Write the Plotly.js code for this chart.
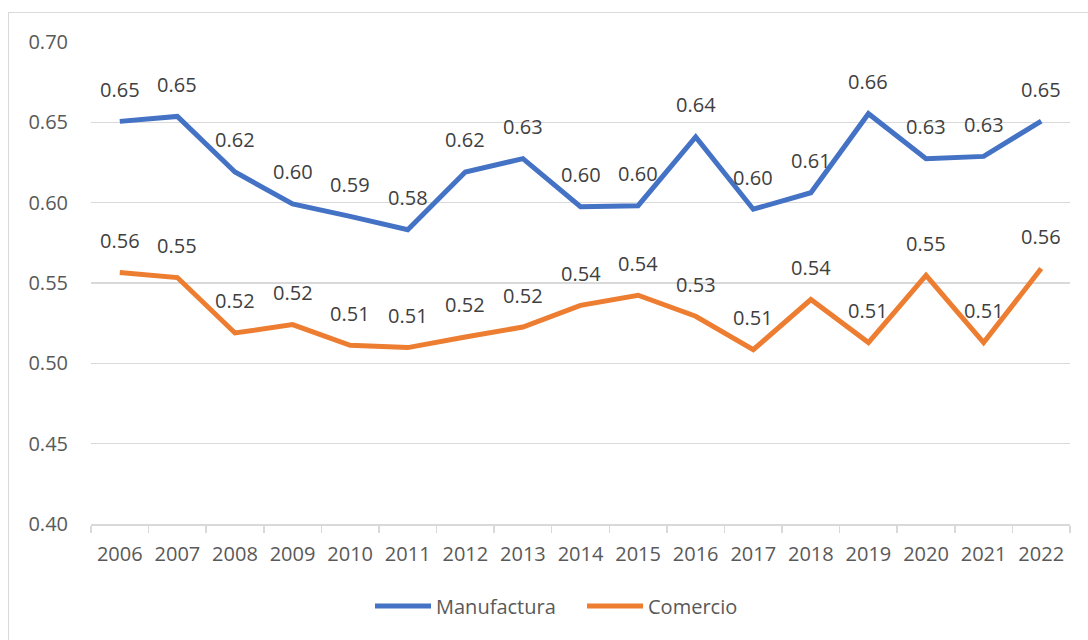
<!DOCTYPE html>
<html>
<head>
<meta charset="utf-8">
<script src="https://cdn.plot.ly/plotly-3.0.1.min.js"></script>
<style>
  html, body { margin: 0; padding: 0; background: #ffffff; overflow: hidden; }
  #frame { position: absolute; left: 8px; top: 12px; width: 1300px; height: 900px; border: 1px solid #d9d9d9; box-sizing: border-box; }
  #chart { position: absolute; left: 0; top: 0; width: 1088px; height: 640px; }
</style>
</head>
<body>
<div id="frame"></div>
<div id="chart"></div>
<script>
const years = ['2006','2007','2008','2009','2010','2011','2012','2013','2014','2015','2016','2017','2018','2019','2020','2021','2022'];
const manufactura = [0.6506,0.6537,0.6191,0.5992,0.5915,0.5832,0.6191,0.6274,0.5975,0.5981,0.6409,0.5959,0.6062,0.6554,0.6274,0.6288,0.6508];
const comercio = [0.5565,0.5534,0.5189,0.5241,0.5112,0.5098,0.5164,0.5226,0.5361,0.5424,0.5293,0.5085,0.5397,0.5129,0.5548,0.5129,0.5590];
const yTicks = [0.40,0.45,0.50,0.55,0.60,0.65,0.70];

const fontFam = '"Open Sans", "Noto Sans", sans-serif';

const traces = [
  { x: years, y: manufactura, name: 'Manufactura', type: 'scatter', mode: 'lines',
    line: { color: '#4472C4', width: 5 }, hoverinfo: 'skip' },
  { x: years, y: comercio, name: 'Comercio', type: 'scatter', mode: 'lines',
    line: { color: '#ED7D31', width: 5 }, hoverinfo: 'skip' }
];

// data labels: x given as category index on the category axis
const annotations = [];
[manufactura, comercio].forEach(series => {
  series.forEach((v, i) => {
    annotations.push({
      x: i, y: v, xref: 'x', yref: 'y',
      text: v.toFixed(2), showarrow: false, yshift: 32,
      font: { family: fontFam, size: 20, color: '#404040' }
    });
  });
});

const layout = {
  width: 1088, height: 640,
  margin: { l: 91, r: 18, t: 42, b: 116 },
  paper_bgcolor: 'rgba(0,0,0,0)',
  plot_bgcolor: 'rgba(0,0,0,0)',
  font: { family: fontFam, size: 20, color: '#595959' },
  showlegend: true,
  legend: {
    orientation: 'h', x: 0.285, xanchor: 'left', y: -0.17, yanchor: 'middle',
    font: { family: fontFam, size: 20, color: '#595959' },
    itemwidth: 56, entrywidth: 141, entrywidthmode: 'pixels', traceorder: 'normal'
  },
  xaxis: {
    type: 'category', range: [-0.5, years.length - 0.5],
    showgrid: false, zeroline: false,
    showline: true, linecolor: '#d9d9d9', linewidth: 1.5,
    ticks: 'outside', tickson: 'boundaries', ticklen: 7, tickcolor: '#d9d9d9', tickwidth: 1.5,
    tickfont: { family: fontFam, size: 20, color: '#595959' },
    ticklabelstandoff: 11,
    fixedrange: true
  },
  yaxis: {
    range: [0.40, 0.70], tickvals: yTicks, ticktext: yTicks.map(v => v.toFixed(2)),
    showgrid: true, gridcolor: '#d9d9d9', gridwidth: 1.5,
    zeroline: false, showline: false, ticks: '',
    tickfont: { family: fontFam, size: 20, color: '#595959' },
    ticklabelstandoff: 22,
    fixedrange: true
  },
  annotations: annotations
};

Plotly.newPlot('chart', traces, layout, { displayModeBar: false, staticPlot: true });
</script>
</body>
</html>
